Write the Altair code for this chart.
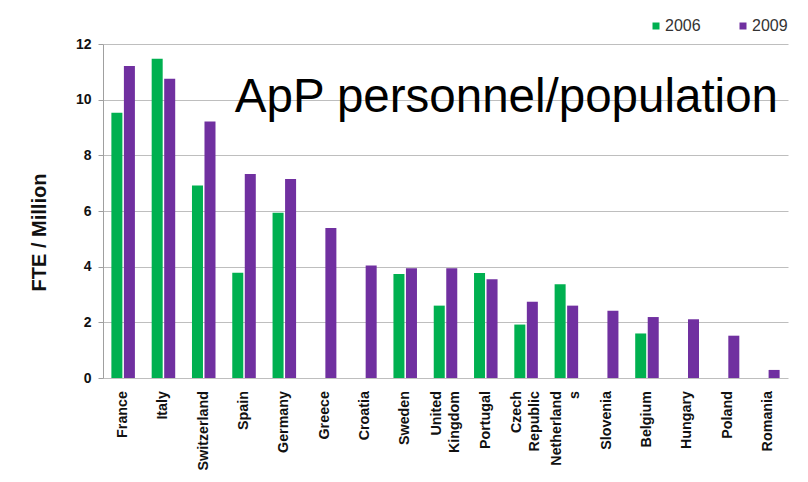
import altair as alt
import pandas as pd

NB = "\u00a0"
countries = ["France", "Italy", "Switzerland", "Spain", "Germany", "Greece", "Croatia",
             "Sweden", "United" + NB * 2 + "|Kingdom", "Portugal",
             "Czech" + NB * 2 + "|Republic", "Netherland|s" + NB * 8,
             "Slovenia", "Belgium", "Hungary", "Poland", "Romania"]
v2006 = [9.53, 11.47, 6.92, 3.78, 5.94, None, None, 3.74, 2.60, 3.77, 1.92, 3.37,
         None, 1.60, None, None, None]
v2009 = [11.21, 10.75, 9.22, 7.33, 7.15, 5.39, 4.04, 3.94, 3.94, 3.55, 2.74, 2.60,
         2.42, 2.19, 2.11, 1.52, 0.29]
years = ["2006", "2009"]
colors = ["#00B050", "#7030A0"]
title_text = "ApP personnel/population"
y_ticks = [0, 2, 4, 6, 8, 10, 12]

rows = []
for c, a, b in zip(countries, v2006, v2009):
    if a is not None:
        rows.append({"country": c, "year": "2006", "value": a})
    if b is not None:
        rows.append({"country": c, "year": "2009", "value": b})
df = pd.DataFrame(rows)
single_df = pd.DataFrame({"country": [c for c in countries if "|" not in c]})
multi_df = pd.DataFrame({"country": [c for c in countries if "|" in c]})

FONT = "Liberation Sans"
H = 334

x_enc = alt.X("country:N", sort=countries,
              scale=alt.Scale(paddingInner=0, paddingOuter=0),
              axis=alt.Axis(title=None, labels=False, tickBand="extent",
                            tickColor="#A0A0A0", tickSize=5,
                            domainColor="#A0A0A0", grid=False))

bars = alt.Chart(df).mark_bar().encode(
    x=x_enc,
    xOffset=alt.XOffset("year:N", sort=years,
                        scale=alt.Scale(paddingInner=0.12, paddingOuter=0.67)),
    y=alt.Y("value:Q", scale=alt.Scale(domain=[0, 12]),
            axis=alt.Axis(title="FTE / Million", values=y_ticks, format="d",
                          labelFont=FONT, labelFontSize=14, labelFontWeight="bold",
                          labelColor="#111", labelPadding=7, tickColor="#A0A0A0",
                          tickSize=5, domainColor="#A0A0A0", gridColor="#BEBEBE",
                          titleFont=FONT, titleFontSize=20, titleFontWeight="bold",
                          titleColor="#111", titlePadding=26, titleY=188)),
    color=alt.Color("year:N", sort=years,
                    scale=alt.Scale(domain=years, range=colors),
                    legend=alt.Legend(title=None, orient="none", legendX=545, legendY=-26,
                                      direction="horizontal", symbolType="square",
                                      symbolSize=49, symbolStrokeWidth=0,
                                      labelFont=FONT, labelFontSize=16,
                                      labelColor="#333", columnPadding=34,
                                      labelOffset=1)),
)

label_style = dict(font=FONT, fontSize=14.3, fontWeight="bold", color="#111",
                   angle=270, align="right", baseline="middle", lineBreak="|",
                   lineHeight=18)

single_labels = alt.Chart(single_df).mark_text(dy=0, **label_style).encode(
    x=alt.X("country:N", sort=countries, axis=None),
    y=alt.value(H + 13), text="country:N")
multi_labels = alt.Chart(multi_df).mark_text(dy=-9, **label_style).encode(
    x=alt.X("country:N", sort=countries, axis=None),
    y=alt.value(H + 13), text="country:N")

title_layer = alt.Chart(alt.Data(values=[{"t": title_text}])).mark_text(
    font=FONT, fontSize=47.5, align="right", baseline="alphabetic", color="black"
).encode(text="t:N", x=alt.value(675), y=alt.value(67.7))

chart = alt.layer(bars, single_labels, multi_labels, title_layer).properties(
    width=685, height=H,
    autosize=alt.AutoSizeParams(type="none"),
    padding={"left": 95, "top": 36, "right": 12, "bottom": 94},
    background="white",
).configure_view(stroke=None)

chart.save("out.html", embed_options={"renderer": "svg", "actions": False})
